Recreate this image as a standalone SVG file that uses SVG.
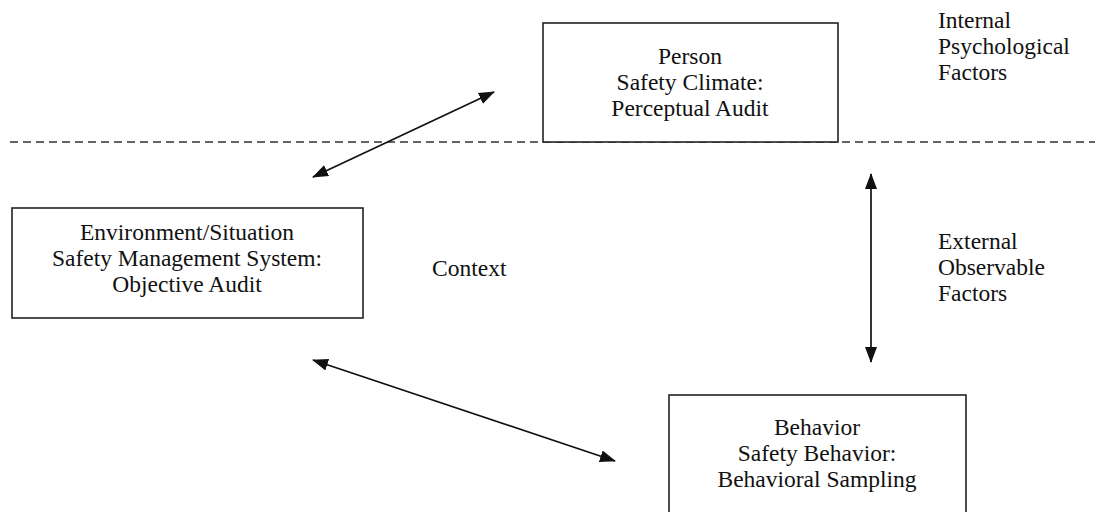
<svg xmlns="http://www.w3.org/2000/svg" width="1095" height="512" viewBox="0 0 1095 512">
<style>
.box{fill:#fff;stroke:#222;stroke-width:1.6}
.t{font-family:'Liberation Serif','Times New Roman','DejaVu Serif',serif;font-size:23.5px;fill:#111}
.c{text-anchor:middle}
.conn{stroke:#111;stroke-width:1.7;fill:none;marker-start:url(#ah);marker-end:url(#ah)}
.dash{stroke:#333;stroke-width:1.5;stroke-dasharray:8 5;fill:none}
</style>
<defs>
<marker id="ah" viewBox="0 0 16 12" refX="15" refY="6" markerWidth="16" markerHeight="12" markerUnits="userSpaceOnUse" orient="auto-start-reverse">
<path d="M0,0 L16,6 L0,12 Z" fill="#111"/>
</marker>
</defs>
<line class="dash" x1="10" y1="142" x2="1095" y2="142"/>
<g id="person">
<rect class="box" x="543" y="23" width="295" height="119"/>
<text class="t c" x="690" y="64">Person</text>
<text class="t c" x="690" y="90">Safety Climate:</text>
<text class="t c" x="690" y="116">Perceptual Audit</text>
</g>
<g id="environment">
<rect class="box" x="12" y="208" width="351" height="110"/>
<text class="t c" x="187" y="240">Environment/Situation</text>
<text class="t c" x="187" y="266">Safety Management System:</text>
<text class="t c" x="187" y="292">Objective Audit</text>
</g>
<g id="behavior">
<rect class="box" x="669" y="395" width="297" height="130"/>
<text class="t c" x="817" y="435">Behavior</text>
<text class="t c" x="817" y="461">Safety Behavior:</text>
<text class="t c" x="817" y="487">Behavioral Sampling</text>
</g>
<g id="context">
<text class="t" x="432" y="276">Context</text>
</g>
<g id="internal">
<text class="t" x="938" y="28">Internal</text>
<text class="t" x="938" y="54">Psychological</text>
<text class="t" x="938" y="80">Factors</text>
</g>
<g id="external">
<text class="t" x="938" y="249">External</text>
<text class="t" x="938" y="275">Observable</text>
<text class="t" x="938" y="301">Factors</text>
</g>
<g id="connectors">
<line class="conn" x1="313" y1="177" x2="494" y2="92"/>
<line class="conn" x1="313" y1="360" x2="615" y2="461"/>
<line class="conn" x1="871" y1="174" x2="871" y2="362"/>
</g>
</svg>
